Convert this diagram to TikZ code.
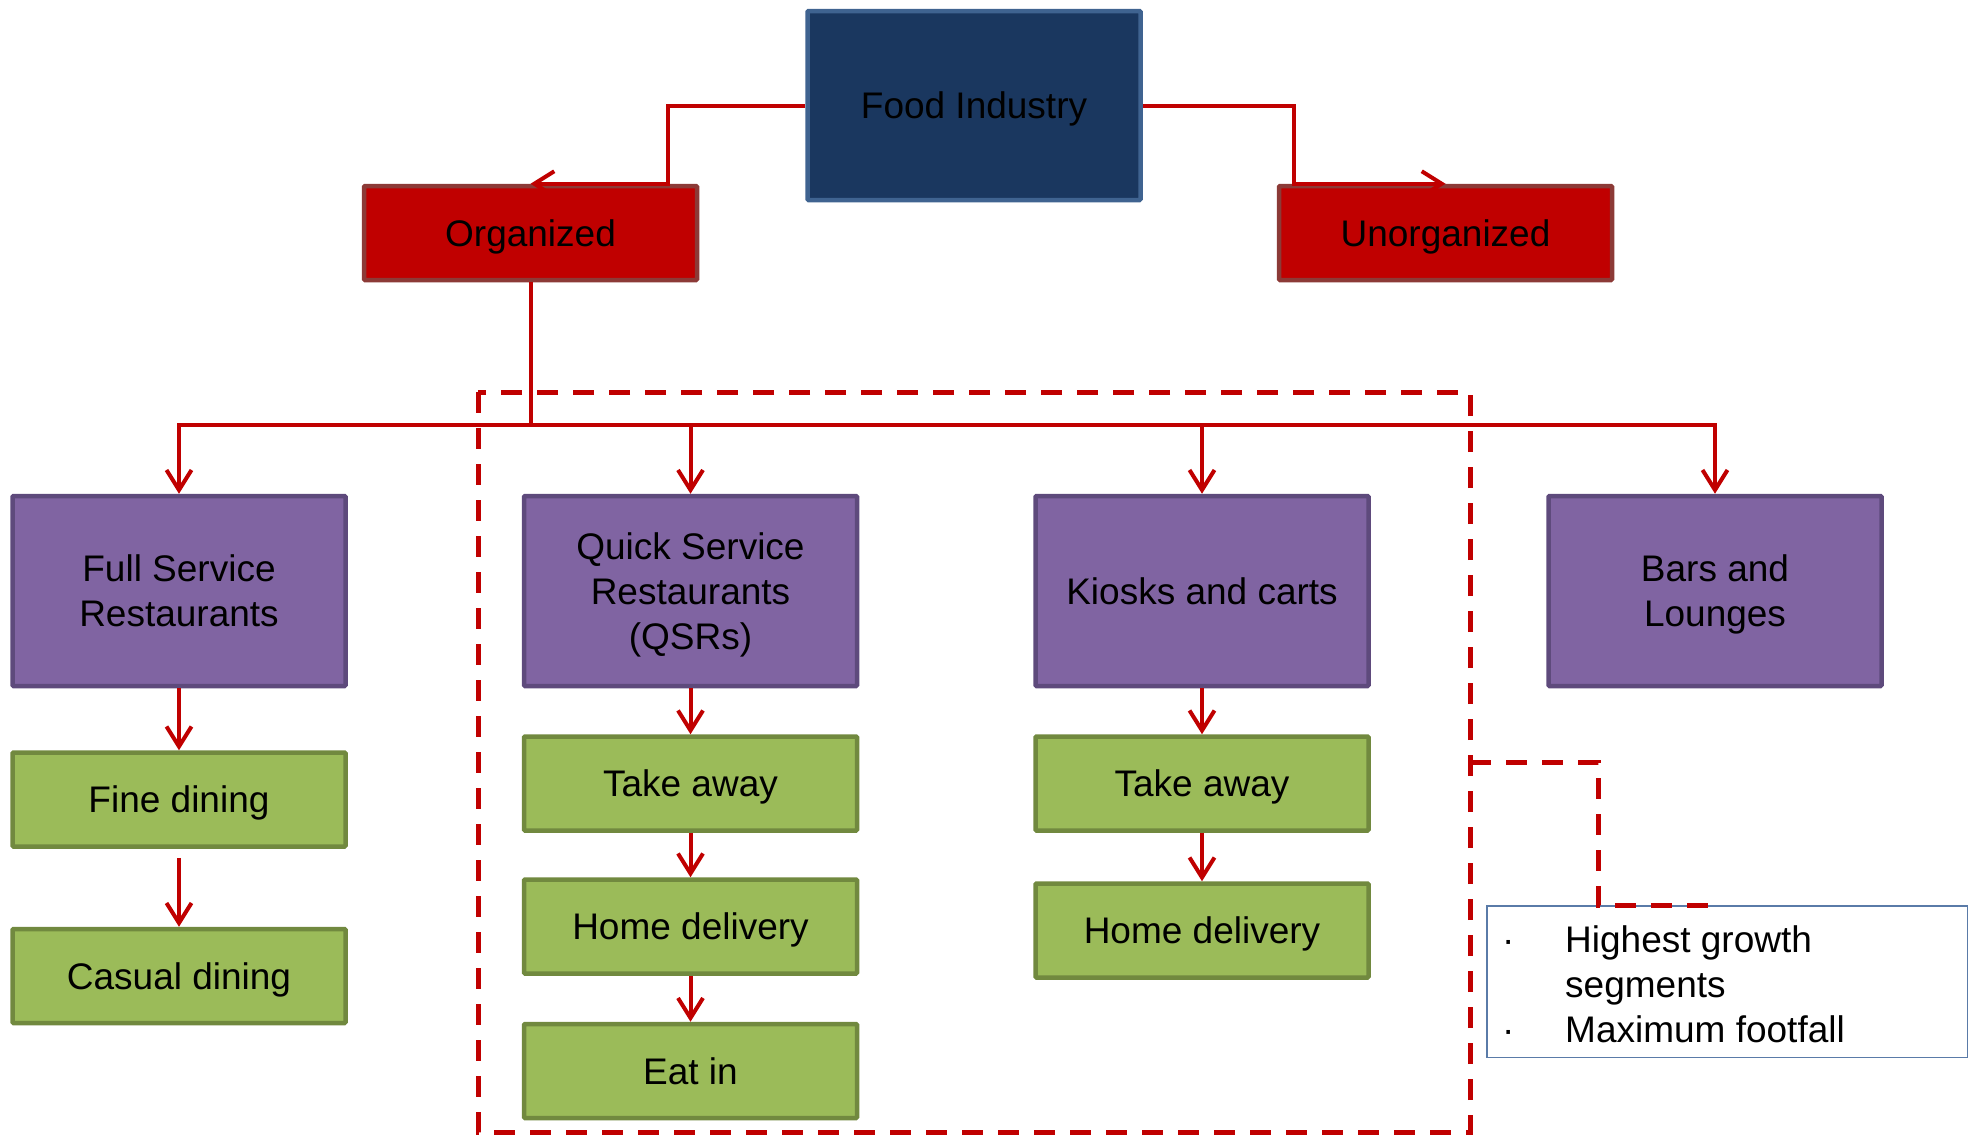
\documentclass[tikz,border=0pt]{standalone}
\usepackage{fontspec}
\setmainfont{Liberation Sans}
\usetikzlibrary{arrows.meta}
\definecolor{navyfill}{HTML}{1A375F}
\definecolor{navyline}{HTML}{3F6390}
\definecolor{redfill}{HTML}{C00000}
\definecolor{redline}{HTML}{8C3A37}
\definecolor{purpfill}{HTML}{8064A2}
\definecolor{purpline}{HTML}{5E4A7C}
\definecolor{grnfill}{HTML}{9BBB59}
\definecolor{grnline}{HTML}{71893F}
\definecolor{cred}{HTML}{C00000}
\definecolor{noteline}{HTML}{5A7BA8}
\tikzset{
  box/.style={rectangle, line width=4.5pt, minimum width=333pt, text=black,
    font=\fontsize{37}{45}\selectfont, align=center, inner sep=0pt, text depth=0pt, rounded corners=1pt},
  bluebox/.style={box, fill=navyfill, draw=navyline, minimum height=189pt},
  redbox/.style={box, fill=redfill, draw=redline, minimum height=94pt},
  purplebox/.style={box, fill=purpfill, draw=purpline, minimum height=190pt},
  greenbox/.style={box, fill=grnfill, draw=grnline, minimum height=94pt},
  conn/.style={draw=cred, line width=4pt},
  arr/.style={conn, -{Straight Barb[length=20pt,width=25pt]}},
  dashbox/.style={draw=cred, line width=5pt, dash pattern=on 21pt off 15pt},
  notetext/.style={anchor=base west, inner sep=0pt, font=\fontsize{37}{45}\selectfont}
}
\begin{document}
\begin{tikzpicture}[x=1pt,y=-1pt]
\useasboundingbox (0,0) rectangle (1976,1135);
% main nodes
\node[bluebox] (fi) at (974,105.5) {Food Industry};
\node[redbox] (org) at (530.5,233) {Organized};
\node[redbox] (unorg) at (1445.5,233) {Unorganized};
\node[purplebox] (fsr) at (179,591) {Full Service\\Restaurants};
\node[purplebox] (qsr) at (690.5,591) {Quick Service\\Restaurants\\(QSRs)};
\node[purplebox] (kiosk) at (1202,591) {Kiosks and carts};
\node[purplebox] (bars) at (1715,591) {Bars and\\Lounges};
\node[greenbox] (fine) at (179,799.5) {Fine dining};
\node[greenbox] (casual) at (179,976) {Casual dining};
\node[greenbox] (qta) at (690.5,783.5) {Take away};
\node[greenbox] (qhd) at (690.5,926.5) {Home delivery};
\node[greenbox] (eat) at (690.5,1071) {Eat in};
\node[greenbox] (kta) at (1202,783.5) {Take away};
\node[greenbox] (khd) at (1202,930.5) {Home delivery};
% note box
\node[draw=noteline, line width=1.5pt, minimum width=480.5pt, minimum height=151.5pt, inner sep=0pt] (note) at (1727,981.5) {};
\node[notetext] (d1) at (1502,952) {·};
\node[notetext] (d2) at (1502,1042) {·};
\node[notetext] (n1) at (1565,952) {Highest growth};
\node[notetext] (n2) at (1565,997) {segments};
\node[notetext] (n3) at (1565,1042) {Maximum footfall};
% coordinates
\coordinate (elbL) at (668,0);
\coordinate (elbR) at (1294,0);
\coordinate (busy) at (0,425);
% top connectors
\draw[arr] (fi.west) -| (elbL |- org.north) -- (org.north);
\draw[arr] (fi.east) -| (elbR |- unorg.north) -- (unorg.north);
% bus
\draw[conn] (org.south) -- (org.south |- busy);
\draw[conn, {Straight Barb[length=20pt,width=25pt]}-{Straight Barb[length=20pt,width=25pt]}] (fsr.north) |- (bars.north |- busy) -- (bars.north);
\draw[arr] (qsr.north |- busy) -- (qsr.north);
\draw[arr] (kiosk.north |- busy) -- (kiosk.north);
% vertical chains
\draw[arr] (fsr.south) -- (fine.north);
\draw[arr, shorten <=9pt] (fine.south) -- (casual.north);
\draw[arr] (qsr.south) -- (qta.north);
\draw[arr] (qta.south) -- (qhd.north);
\draw[arr] (qhd.south) -- (eat.north);
\draw[arr] (kiosk.south) -- (kta.north);
\draw[arr] (kta.south) -- (khd.north);
% dashed group and callout
\coordinate (gTL) at (478,392);
\coordinate (gBR) at (1470,1132);
\draw[dashbox] (gTL) rectangle (gBR);
\coordinate (cs) at (1470,762);
\coordinate (cm) at (1598,0);
\coordinate (ce) at (1722,0);
\draw[dashbox] (cs) -| (cm |- note.north) -- (ce |- note.north);
\end{tikzpicture}
\end{document}
